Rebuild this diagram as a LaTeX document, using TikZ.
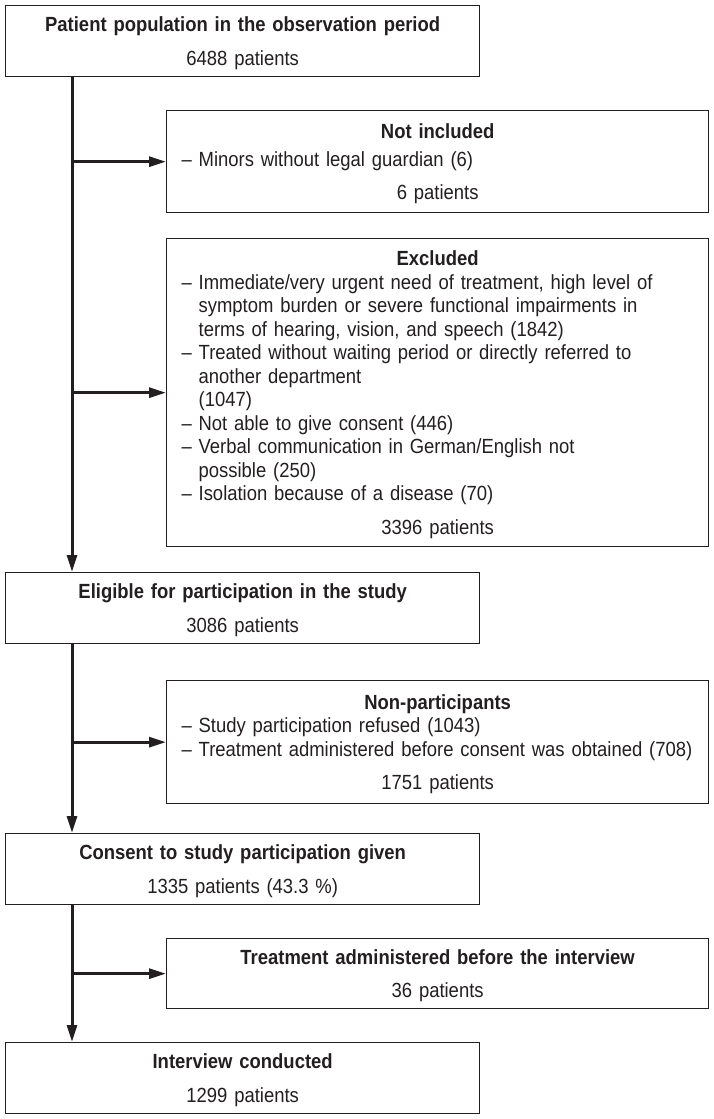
\documentclass[tikz,border=0pt]{standalone}
\usepackage{fontspec}
\setmainfont{Liberation Sans}[FakeStretch=0.9]
\usetikzlibrary{arrows.meta}

\definecolor{ink}{HTML}{231F20}

\newlength\dashw
\setlength\dashw{17pt}
\newcommand\hd[1]{{\centering\bfseries #1\par}}
\newcommand\entry[1]{\par\leftskip=15pt\hangindent=\dashw\hangafter=1\noindent\makebox[\dashw][l]{–}#1}
\newcommand\cnt[1]{\par\vspace{10pt}{\centering\smash{#1}\par}}

\begin{document}
\begin{tikzpicture}[x=1pt,y=-1pt]
        \useasboundingbox (0,0) rectangle (714,1119);

        \begin{scope}[every node/.style={draw=ink, line width=1.3pt, anchor=north west, inner sep=0pt,
            align=left, text=ink, font=\fontsize{20.5}{23.5}\selectfont}]
          \node[minimum width=474pt, text width=474pt, minimum height=71pt]  (1) at (5,5)
            {\hd{Patient population in the observation period}\cnt{6488 patients}};
          \node[minimum width=542pt, text width=542pt, minimum height=102pt] (2) at (166,110)
            {\hd{Not included}\vspace{4pt}\entry{Minors without legal guardian (6)}\cnt{6 patients}};
          \node[minimum width=542pt, text width=542pt, minimum height=308pt] (3) at (166,238)
            {\hd{Excluded}
             \entry{Immediate/very urgent need of treatment, high level of\newline
               symptom burden or severe functional impairments in\newline
               terms of hearing, vision, and speech (1842)}
             \entry{Treated without waiting period or directly referred to\newline
               another department\newline (1047)}
             \entry{Not able to give consent (446)}
             \entry{Verbal communication in German/English not\newline possible (250)}
             \entry{Isolation because of a disease (70)}
             \cnt{3396 patients}};
          \node[minimum width=474pt, text width=474pt, minimum height=71pt]  (4) at (5,572)
            {\hd{Eligible for participation in the study}\cnt{3086 patients}};
          \node[minimum width=542pt, text width=542pt, minimum height=123pt] (5) at (166,680)
            {\hd{Non-participants}
             \entry{Study participation refused (1043)}
             \entry{Treatment administered before consent was obtained (708)}
             \cnt{1751 patients}};
          \node[minimum width=474pt, text width=474pt, minimum height=71pt]  (6) at (5,833)
            {\hd{Consent to study participation given}\cnt{1335 patients (43.3 \%)}};
          \node[minimum width=542pt, text width=542pt, minimum height=70pt]  (7) at (166,938)
            {\hd{Treatment administered before the interview}\cnt{36 patients}};
          \node[minimum width=474pt, text width=474pt, minimum height=71pt]  (8) at (5,1042)
            {\hd{Interview conducted}\cnt{1299 patients}};
        \end{scope}

        \coordinate (s) at (72,0);

        \begin{scope}[every edge/.style={draw=ink, line width=3pt, -{Triangle[length=17pt,width=10pt]}}]
          \path (s |- 1.south) edge (s |- 4.north);
          \path (s |- 2.west)  edge (2.west);
          \path (s |- 3.west)  edge (3.west);
          \path (s |- 4.south) edge (s |- 6.north);
          \path (s |- 5.west)  edge (5.west);
          \path (s |- 6.south) edge (s |- 8.north);
          \path (s |- 7.west)  edge (7.west);
        \end{scope}

      \end{tikzpicture}
\end{document}
